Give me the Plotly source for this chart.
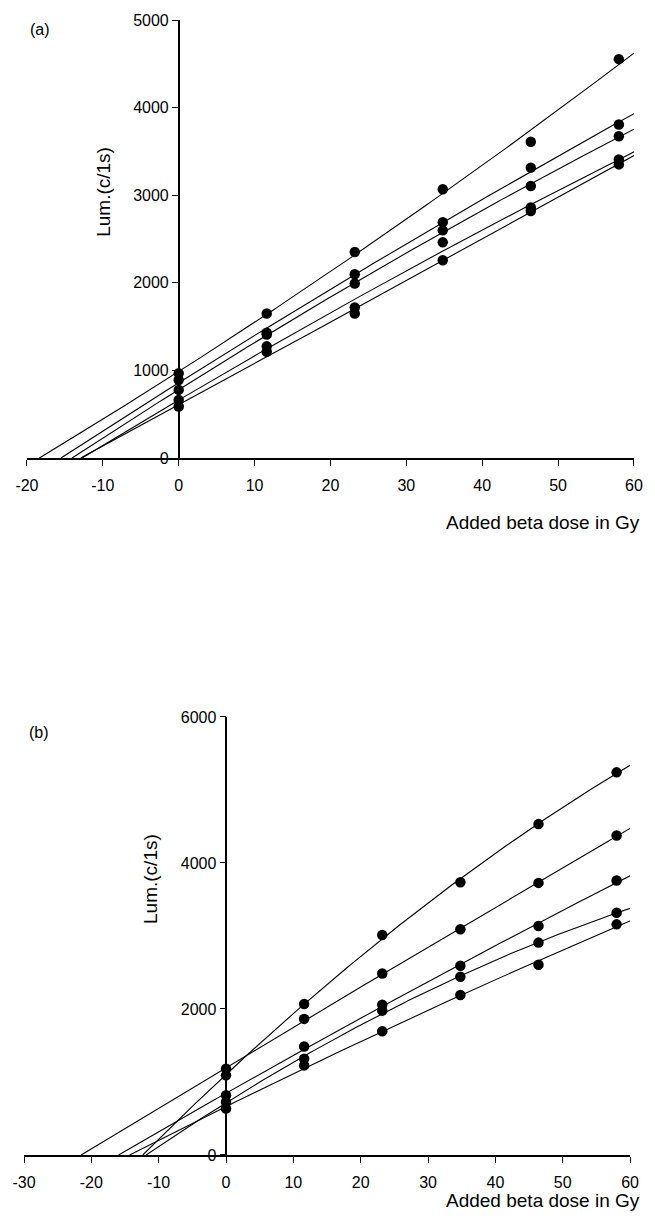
import numpy as np
import plotly.graph_objects as go

# Added beta dose (Gy) for every aliquot series
dose = [0, 11.6, 23.2, 34.8, 46.4, 58.0]

# Panel (a): luminescence (counts per 1 s) for five aliquots
a1_lum = [967, 1650, 2352, 3069, 3610, 4553]
a2_lum = [891, 1430, 2098, 2693, 3315, 3807]
a3_lum = [778, 1410, 1992, 2599, 3106, 3674]
a4_lum = [664, 1275, 1718, 2462, 2860, 3409]
a5_lum = [588, 1214, 1650, 2257, 2820, 3352]

# Panel (b): luminescence (counts per 1 s) for five aliquots
b1_lum = [1091, 2068, 3014, 3736, 4532, 5241]
b2_lum = [1182, 1864, 2486, 3091, 3727, 4377]
b3_lum = [818, 1486, 2059, 2591, 3136, 3759]
b4_lum = [727, 1318, 1977, 2441, 2909, 3318]
b5_lum = [636, 1227, 1695, 2191, 2605, 3159]

a_x_ticks = [-20, -10, 0, 10, 20, 30, 40, 50, 60]
b_x_ticks = [-30, -20, -10, 0, 10, 20, 30, 40, 50, 60]
a_y_ticks = [0, 1000, 2000, 3000, 4000, 5000]
b_y_ticks = [0, 2000, 4000, 6000]

x_title = "Added beta dose in Gy"
y_title = "Lum.(c/1s)"

# page geometry (pixels) and helpers converting to paper coordinates
W, H = 655, 1226
ML, MR, MT, MB = 21, 13, 15, 71
PW, PH = W - ML - MR, H - MT - MB


def px(x):
    return (x - ML) / PW


def py(y):
    return (H - MB - y) / PH


FONT = "Liberation Sans, Arial, Helvetica, sans-serif"


def growth_curve(y, deg=2, xmax=60.0):
    """Least-squares dose-response fit, drawn from its zero crossing to xmax."""
    coef = np.polyfit(dose, y, deg)
    roots = [r.real for r in np.roots(coef) if abs(r.imag) < 1e-9 and -40 < r.real < 0]
    x0 = max(roots) if roots else -40.0
    xs = np.linspace(x0, xmax, 300)
    return xs, np.polyval(coef, xs)


fig = go.Figure()

panels = [
    ("x", "y", [a1_lum, a2_lum, a3_lum, a4_lum, a5_lum]),
    ("x2", "y2", [b1_lum, b2_lum, b3_lum, b4_lum, b5_lum]),
]
for xa, ya, series in panels:
    for lum in series:
        xs, ys = growth_curve(lum)
        fig.add_trace(go.Scatter(x=xs, y=ys, mode="lines", xaxis=xa, yaxis=ya,
                                 line=dict(color="black", width=1.1),
                                 hoverinfo="skip", showlegend=False))
        fig.add_trace(go.Scatter(x=dose, y=lum, mode="markers", xaxis=xa, yaxis=ya,
                                 marker=dict(color="black", size=10.5),
                                 showlegend=False, cliponaxis=False))

common_x = dict(showline=True, linecolor="black", linewidth=1.5, ticks="outside",
                ticklen=6, tickwidth=1.3, tickcolor="black", showgrid=False,
                zeroline=False, tickfont=dict(family=FONT, size=16, color="black"),
                ticklabelstandoff=6)
common_y = dict(showline=True, linecolor="black", linewidth=1.5, ticks="outside",
                ticklen=6, tickwidth=1.3, tickcolor="black", showgrid=False,
                zeroline=False, tickfont=dict(family=FONT, size=16, color="black"),
                anchor="free")

fig.update_layout(
    width=W, height=H,
    margin=dict(l=ML, r=MR, t=MT, b=MB),
    paper_bgcolor="white", plot_bgcolor="white",
    xaxis=dict(domain=[px(24), px(642)], range=[-20, 60], anchor="y",
               tickvals=a_x_ticks, ticktext=[str(v) for v in a_x_ticks], **common_x),
    yaxis=dict(domain=[py(455), py(15)], range=[0, 5000], position=px(178.5),
               tickvals=a_y_ticks, ticktext=[str(v) for v in a_y_ticks], **common_y),
    xaxis2=dict(domain=[px(21), px(638)], range=[-30, 60], anchor="y2",
                tickvals=b_x_ticks, ticktext=[str(v) for v in b_x_ticks], **common_x),
    yaxis2=dict(domain=[py(1155), py(715)], range=[0, 6000], position=px(227),
                tickvals=b_y_ticks, ticktext=[str(v) for v in b_y_ticks], **common_y),
)

annots = [
    dict(text="(a)", x=px(37), y=py(25), size=16, xanchor="center", angle=0),
    dict(text="(b)", x=px(36), y=py(731), size=16, xanchor="center", angle=0),
    dict(text=x_title, x=px(650), y=py(520), size=19, xanchor="right", angle=0),
    dict(text=x_title, x=px(650), y=py(1201), size=19, xanchor="right", angle=0),
    dict(text=y_title, x=px(102), y=py(188), size=19, xanchor="center", angle=-90),
    dict(text=y_title, x=px(149), y=py(878), size=19, xanchor="center", angle=-90),
]
for a in annots:
    fig.add_annotation(text=a["text"], x=a["x"], y=a["y"], xref="paper", yref="paper",
                       xanchor=a["xanchor"], yanchor="middle", textangle=a["angle"],
                       showarrow=False, font=dict(family=FONT, size=a["size"], color="black"))

fig.write_html("out.html")
